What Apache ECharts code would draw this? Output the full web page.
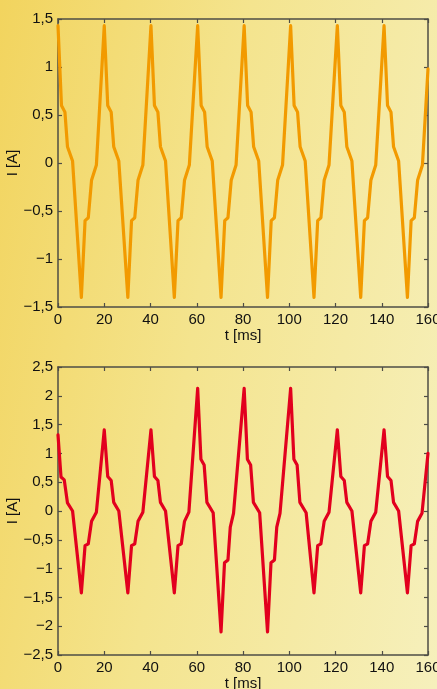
<!DOCTYPE html>
<html>
<head>
<meta charset="utf-8">
<script src="https://cdn.jsdelivr.net/npm/echarts@6/dist/echarts.min.js"></script>
<style>
  html, body { margin: 0; padding: 0; width: 437px; height: 689px; overflow: hidden; }
  body { background: linear-gradient(100deg, #F2D45E 0%, #F4E48E 45%, #F6F0BC 100%); }
  #chart { width: 437px; height: 689px; }
</style>
</head>
<body>
<div id="chart"></div>
<script>
// ---- data ----
// top panel: time [ms]
var tTop = [
  0, 1.5, 3.0, 4.1, 6.3, 10.1, 11.7, 13.1, 14.5, 16.6,
  20.0, 21.5, 23.0, 24.1, 26.3, 30.2, 31.8, 33.2, 34.6, 36.7,
  40.2, 41.7, 43.2, 44.3, 46.5, 50.3, 51.9, 53.3, 54.7, 56.8,
  60.4, 61.9, 63.4, 64.5, 66.7, 70.5, 72.1, 73.5, 74.9, 77.0,
  80.5, 82.0, 83.5, 84.6, 86.8, 90.6, 92.2, 93.6, 95.0, 97.1,
  100.6, 102.1, 103.6, 104.7, 106.9, 110.7, 112.3, 113.7, 115.1, 117.2,
  120.8, 122.3, 123.8, 124.9, 127.1, 130.9, 132.5, 133.9, 135.3, 137.4,
  141.0, 142.5, 144.0, 145.1, 147.3, 151.1, 152.7, 154.1, 155.5, 157.6,
  160
];
// top panel: current [A]
var iTop = [
  1.43, 0.60, 0.53, 0.17, 0.02, -1.40, -0.60, -0.57, -0.18, -0.02,
  1.43, 0.60, 0.53, 0.17, 0.02, -1.40, -0.60, -0.57, -0.18, -0.02,
  1.43, 0.60, 0.53, 0.17, 0.02, -1.40, -0.60, -0.57, -0.18, -0.02,
  1.43, 0.60, 0.53, 0.17, 0.02, -1.40, -0.60, -0.57, -0.18, -0.02,
  1.43, 0.60, 0.53, 0.17, 0.02, -1.40, -0.60, -0.57, -0.18, -0.02,
  1.43, 0.60, 0.53, 0.17, 0.02, -1.40, -0.60, -0.57, -0.18, -0.02,
  1.43, 0.60, 0.53, 0.17, 0.02, -1.40, -0.60, -0.57, -0.18, -0.02,
  1.43, 0.60, 0.53, 0.17, 0.02, -1.40, -0.60, -0.57, -0.18, -0.02,
  0.98
];
// bottom panel: time [ms]
var tBottom = [
  0, 1.3, 2.7, 4.1, 6.3, 10.1, 11.7, 13.1, 14.5, 16.6,
  20.0, 21.5, 23.0, 24.1, 26.3, 30.2, 31.8, 33.2, 34.6, 36.7,
  40.2, 41.7, 43.2, 44.3, 46.5, 50.3, 51.9, 53.3, 54.7, 56.6,
  60.4, 61.8, 63.2, 64.4, 67.1, 70.5, 72.0, 73.5, 74.5, 75.9,
  80.5, 81.9, 83.3, 84.5, 87.2, 90.6, 92.1, 93.6, 94.6, 96.0,
  100.6, 102.0, 103.4, 104.6, 107.3, 110.7, 112.3, 113.7, 115.1, 117.2,
  120.8, 122.3, 123.8, 124.9, 127.1, 130.9, 132.5, 133.9, 135.3, 137.4,
  141.0, 142.5, 144.0, 145.1, 147.3, 151.1, 152.7, 154.1, 155.5, 157.4,
  160
];
// bottom panel: current [A]
var iBottom = [
  1.32, 0.59, 0.54, 0.14, 0.00, -1.42, -0.60, -0.57, -0.18, -0.02,
  1.41, 0.60, 0.53, 0.15, 0.00, -1.42, -0.60, -0.57, -0.18, -0.02,
  1.41, 0.60, 0.53, 0.15, 0.00, -1.42, -0.60, -0.57, -0.18, -0.02,
  2.13, 0.90, 0.80, 0.15, -0.03, -2.10, -0.90, -0.85, -0.28, -0.04,
  2.13, 0.90, 0.80, 0.15, -0.03, -2.10, -0.90, -0.85, -0.28, -0.04,
  2.13, 0.90, 0.80, 0.15, -0.03, -1.42, -0.60, -0.57, -0.18, -0.02,
  1.41, 0.60, 0.53, 0.15, 0.00, -1.42, -0.60, -0.57, -0.18, -0.02,
  1.41, 0.60, 0.53, 0.15, 0.00, -1.42, -0.60, -0.57, -0.18, -0.04,
  1.00
];
// tick values and labels
var xTicks = [0, 20, 40, 60, 80, 100, 120, 140, 160];
var xTickLabels = ['0', '20', '40', '60', '80', '100', '120', '140', '160'];
var yTicksTop = [-1.5, -1, -0.5, 0, 0.5, 1, 1.5];
var yTickLabelsTop = ['\u22121,5', '\u22121', '\u22120,5', '0', '0,5', '1', '1,5'];
var yTicksBottom = [-2.5, -2, -1.5, -1, -0.5, 0, 0.5, 1, 1.5, 2, 2.5];
var yTickLabelsBottom = ['\u22122,5', '\u22122', '\u22121,5', '\u22121', '\u22120,5', '0', '0,5', '1', '1,5', '2', '2,5'];
var xName = 't [ms]';
var yName = 'I [A]';

// ---- chart ----
function pairs(xs, ys) { return xs.map(function (x, i) { return [x, ys[i]]; }); }
function labelFor(ticks, labels) {
  return function (v) {
    for (var i = 0; i < ticks.length; i++) { if (Math.abs(ticks[i] - v) < 1e-9) return labels[i]; }
    return '';
  };
}
var FONT = "'Liberation Sans', Arial, Helvetica, sans-serif";
var AX = '#4e4d45';
function baseAxis(extra) {
  var a = {
    type: 'value',
    axisLine: { show: true, onZero: false, lineStyle: { color: AX, width: 1.5 } },
    axisTick: { show: true, inside: true, length: 4, lineStyle: { color: AX, width: 1.2 } },
    splitLine: { show: false },
    axisLabel: { show: false }
  };
  for (var k in extra) a[k] = extra[k];
  return a;
}
var labelStyle = { color: '#111', fontFamily: FONT, fontSize: 15 };
function xAxes(gridIndex) {
  return [
    baseAxis({ gridIndex: gridIndex, position: 'bottom', min: 0, max: 160, interval: 20,
      name: xName, nameLocation: 'middle', nameGap: 21, nameMoveOverlap: false,
      nameTextStyle: { color: '#111', fontFamily: FONT, fontSize: 15 },
      axisLabel: Object.assign({ show: true, margin: 5, hideOverlap: false, formatter: labelFor(xTicks, xTickLabels) }, labelStyle) }),
    baseAxis({ gridIndex: gridIndex, position: 'top', min: 0, max: 160, interval: 20 })
  ];
}
function yAxes(gridIndex, min, max, ticks, labels) {
  return [
    baseAxis({ gridIndex: gridIndex, position: 'left', min: min, max: max, interval: 0.5,
      name: yName, nameLocation: 'middle', nameGap: 38, nameMoveOverlap: false,
      nameTextStyle: { color: '#111', fontFamily: FONT, fontSize: 15 },
      axisLabel: Object.assign({ show: true, margin: 5, formatter: labelFor(ticks, labels) }, labelStyle) }),
    baseAxis({ gridIndex: gridIndex, position: 'right', min: min, max: max, interval: 0.5 })
  ];
}

var chart = echarts.init(document.getElementById('chart'), null, { renderer: 'canvas' });
chart.setOption({
  animation: false,
  backgroundColor: 'transparent',
  grid: [
    { left: 58, top: 19, width: 370, height: 288, containLabel: false, outerBoundsMode: 'none' },
    { left: 58, top: 367, width: 370, height: 288, containLabel: false, outerBoundsMode: 'none' }
  ],
  xAxis: xAxes(0).concat(xAxes(1)),
  yAxis: yAxes(0, -1.5, 1.5, yTicksTop, yTickLabelsTop).concat(yAxes(1, -2.5, 2.5, yTicksBottom, yTickLabelsBottom)),
  series: [
    { type: 'line', xAxisIndex: 0, yAxisIndex: 0, data: pairs(tTop, iTop), showSymbol: false,
      lineStyle: { color: '#F29A00', width: 3.2, join: 'round', cap: 'round' } },
    { type: 'line', xAxisIndex: 2, yAxisIndex: 2, data: pairs(tBottom, iBottom), showSymbol: false,
      lineStyle: { color: '#E2001E', width: 3.2, join: 'round', cap: 'round' } }
  ]
});
</script>
</body>
</html>
